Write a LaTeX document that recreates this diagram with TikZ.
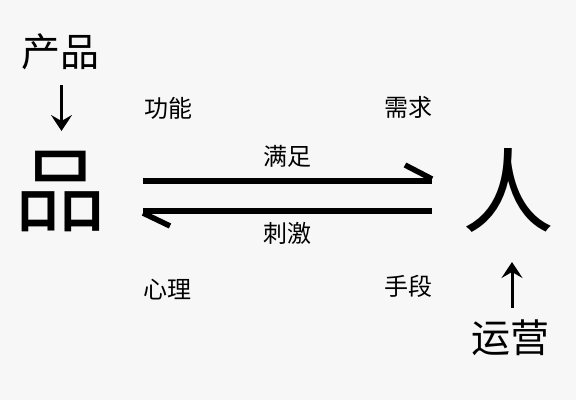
\documentclass[tikz,border=0pt]{standalone}
\usepackage{fontspec}
\setmainfont{Noto Sans CJK SC}
\usetikzlibrary{arrows.meta}
\begin{document}
\begin{tikzpicture}[x=1pt,y=-1pt,
  small/.style={font=\fontsize{24}{24}\selectfont, inner sep=0pt},
  mid/.style={font=\fontsize{39}{39}\selectfont, inner sep=0pt},
  big/.style={font=\fontsize{92}{92}\selectfont, inner sep=0pt},
  thick line/.style={line width=6pt},
  barb/.style={line width=5.5pt},
  vert/.style={line width=3pt, -{Stealth[length=16pt,width=21pt,inset=6pt]}}]
\fill[white!97!black] (0,0) rectangle (576,400);
\useasboundingbox (0,0) rectangle (576,400);
\node[mid] (cp) at (60,52) {产品};
\node[big] (pin) at (60,192) {品};
\node[big] (ren) at (508,190) {人};
\node[mid] (yy) at (510,338) {运营};
\node[small] (gn) at (168,108) {功能};
\node[small] (xq) at (408,107) {需求};
\node[small] (mz) at (287,156) {满足};
\node[small] (cj) at (287,233) {刺激};
\node[small] (xl) at (167,290) {心理};
\node[small] (sd) at (408,286) {手段};
\coordinate (a1) at (61.5,85);
\coordinate (a2) at (61.5,131);
\coordinate (b1) at (512,308);
\coordinate (b2) at (512,262);
\draw[vert] (a1) -- (a2);
\draw[vert] (b1) -- (b2);
\coordinate (t1) at (143,181);
\coordinate (t2) at (432,181);
\coordinate (t3) at (405,165);
\coordinate (u1) at (432,211);
\coordinate (u2) at (143,211);
\coordinate (u3) at (170,226);
\draw[thick line] (t1) -- (t2);
\draw[barb] (t2) ++(0,-2) -- (t3);
\draw[thick line] (u1) -- (u2);
\draw[barb] (u2) ++(0,2) -- (u3);
\end{tikzpicture}
\end{document}
